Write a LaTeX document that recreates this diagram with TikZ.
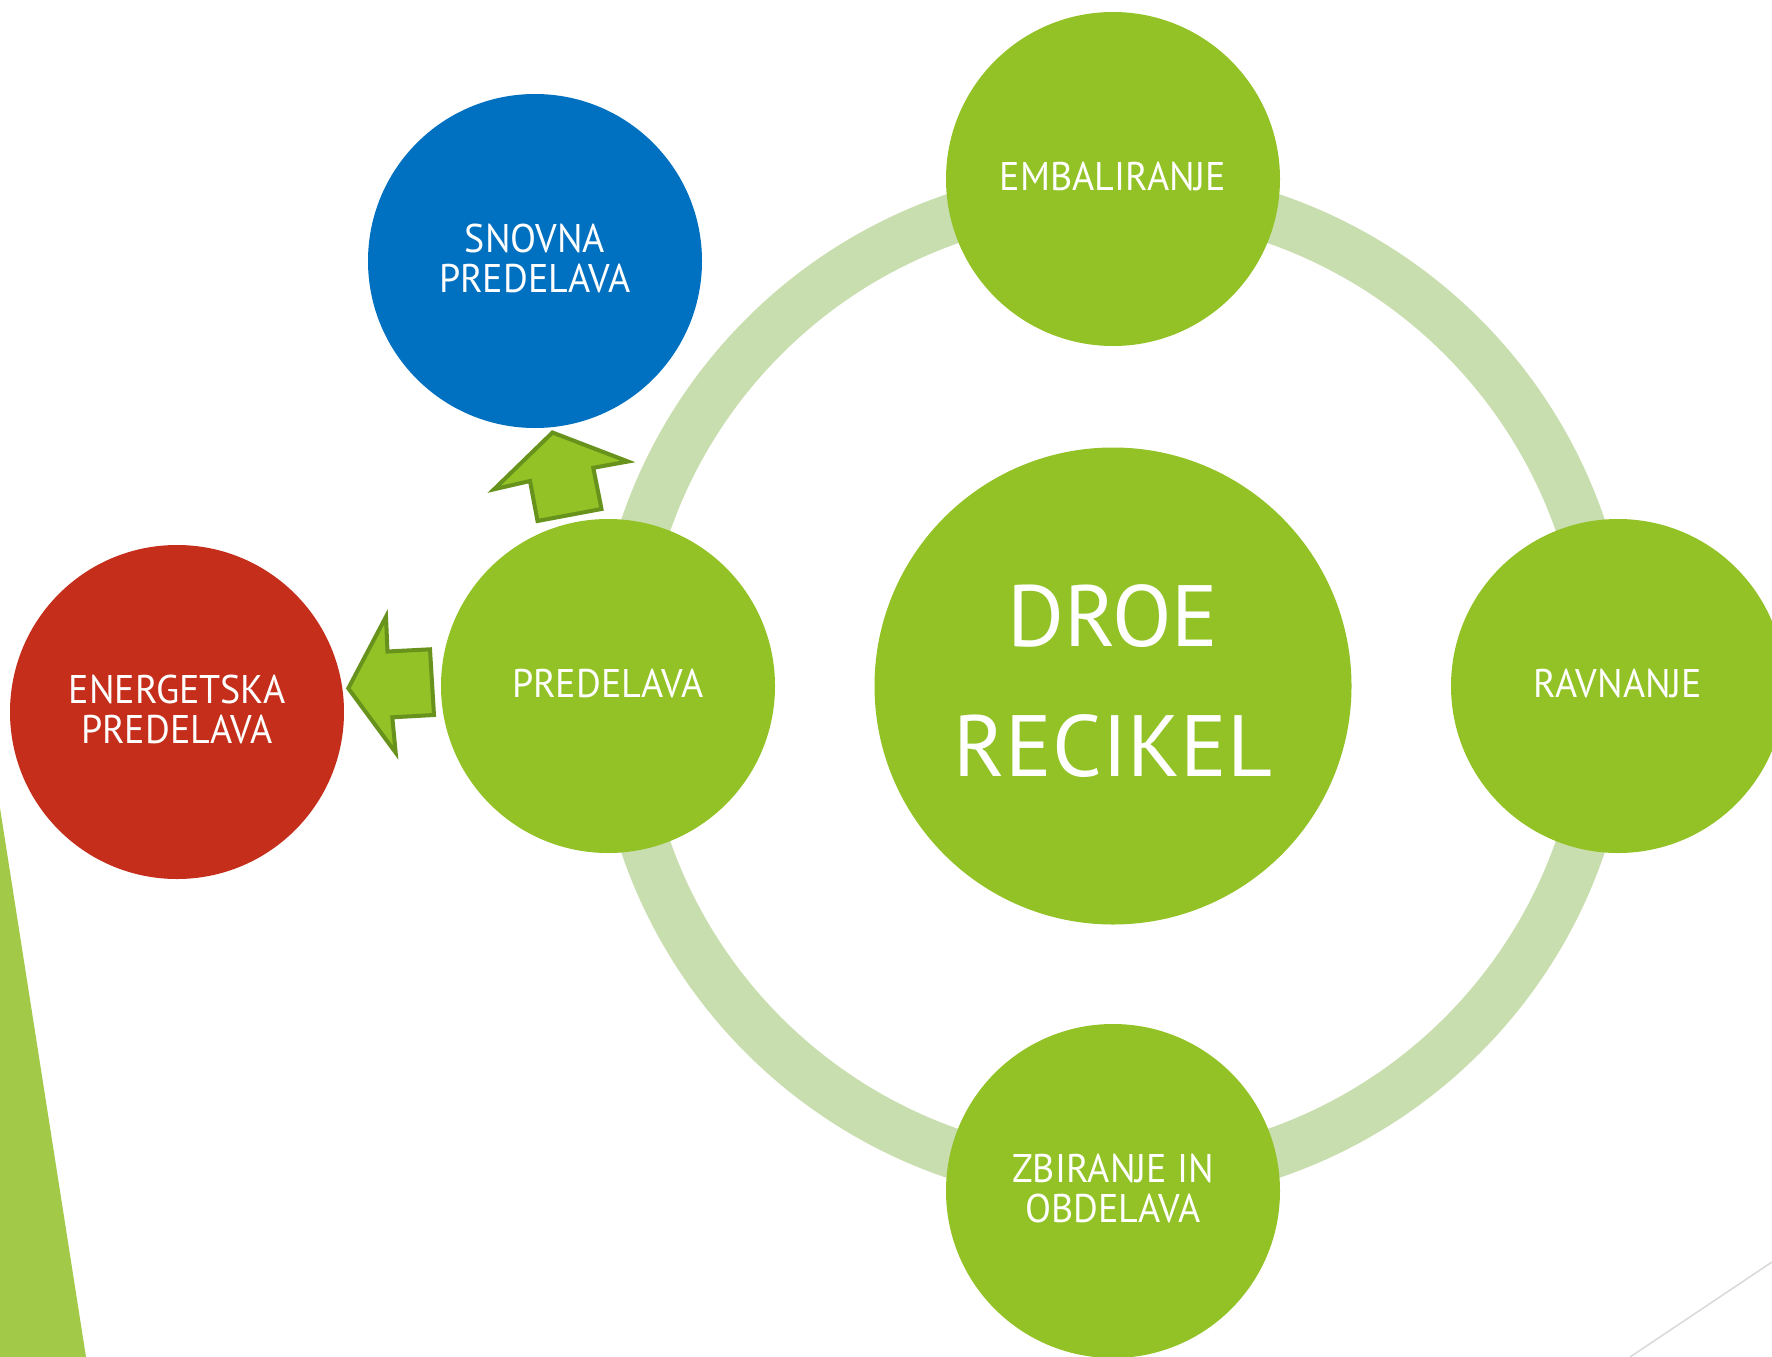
\documentclass[tikz,border=0pt]{standalone}
\usepackage{fontspec}
\setmainfont{PT Sans}
\newfontfamily\smallfam[FakeStretch=0.95]{PT Sans}
\newfontfamily\bigfam[FakeStretch=1.0]{PT Sans}
\definecolor{gmain}{HTML}{92C225}
\definecolor{gring}{HTML}{C8DEAE}
\definecolor{gblue}{HTML}{0070C0}
\definecolor{gred}{HTML}{C42E1A}
\definecolor{gtri}{HTML}{A2C948}
\definecolor{gline}{HTML}{D9D9D9}
\definecolor{garrow}{HTML}{67921C}
\tikzset{
  sat/.style={circle, minimum size=334pt, inner sep=0pt, fill=gmain},
  hub/.style={circle, minimum size=477pt, inner sep=0pt, fill=gmain},
  sattext/.style={text=white, align=center, inner sep=0pt, yshift=2.5pt,
    font={\smallfam\fontsize{40}{40}\selectfont}},
  hubtext/.style={text=white, align=center, inner sep=0pt, yshift=4.5pt,
    font={\bigfam\fontsize{87}{130}\selectfont}},
  arrowshape/.style={fill=gmain, draw=garrow, line width=4pt, line join=miter}
}
\begin{document}
\begin{tikzpicture}[x=1pt,y=-1pt]
\useasboundingbox (0,0) rectangle (1772,1357);
\clip (0,0) rectangle (1772,1357);
\fill[white] (0,0) rectangle (1772,1357);
% decorations
\fill[gtri] (0,808) -- (86,1357) -- (0,1357) -- cycle;
\draw[gline, line width=1.5pt] (1630,1357) -- (1772,1262);
% ring
\draw[gring, line width=50pt] (1113,686) circle[radius=494];
% circles
\node[hub] (hub) at (1113,686) {};
\node[sat] (emb) at (1113,179) {};
\node[sat] (rav) at (1618,686) {};
\node[sat] (zbi) at (1113,1191) {};
\node[sat] (pre) at (608,686) {};
\node[sat, fill=gblue] (sno) at (535,261) {};
\node[sat, fill=gred] (ene) at (177,712) {};
% texts
\node[hubtext] (hubt) at (hub.center) {DROE\\RECIKEL};
\node[sattext] (embt) at (emb.center) {EMBALIRANJE};
\node[sattext] (ravt) at (rav.center) {RAVNANJE};
\node[sattext] (zbit) at (zbi.center) {ZBIRANJE IN\\OBDELAVA};
\node[sattext] (pret) at (pre.center) {PREDELAVA};
\node[sattext] (snot) at (sno.center) {SNOVNA\\PREDELAVA};
\node[sattext] (enet) at (ene.center) {ENERGETSKA\\PREDELAVA};
% arrows
\draw[arrowshape] (552.5,432.5) -- (628,461.5) -- (593.3,467.8) -- (601.5,509) -- (537.5,521) -- (530,481) -- (494,489.3) -- cycle;
\draw[arrowshape] (348.3,688.3) -- (386,616.7) -- (387.5,651.5) -- (430,649.3) -- (434,715) -- (392.3,717.3) -- (395.7,752.7) -- cycle;
\end{tikzpicture}
\end{document}
